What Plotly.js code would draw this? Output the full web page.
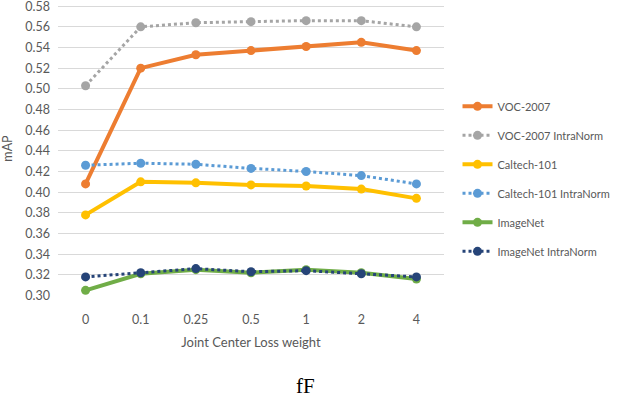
<!DOCTYPE html>
<html><head><meta charset="utf-8">
<script src="https://cdn.plot.ly/plotly-3.0.1.min.js"></script>
<style>html,body{margin:0;padding:0;background:#fff;}#chart{width:618px;height:404px;}</style>
</head><body><div id="chart"></div>
<script>
const categories = ["0", "0.1", "0.25", "0.5", "1", "2", "4"];
const voc = [0.408, 0.520, 0.533, 0.537, 0.541, 0.545, 0.537];
const vocIntra = [0.503, 0.560, 0.564, 0.565, 0.566, 0.566, 0.560];
const caltech = [0.378, 0.410, 0.409, 0.407, 0.406, 0.403, 0.394];
const caltechIntra = [0.426, 0.428, 0.427, 0.423, 0.420, 0.416, 0.408];
const imagenet = [0.305, 0.321, 0.325, 0.322, 0.325, 0.322, 0.316];
const imagenetIntra = [0.318, 0.322, 0.326, 0.323, 0.324, 0.321, 0.318];
const yTicks = [0.30,0.32,0.34,0.36,0.38,0.40,0.42,0.44,0.46,0.48,0.50,0.52,0.54,0.56,0.58];

function tr(name, y, color, dotted, g) {
  return {
    x: categories, y: y, name: name, type: 'scatter', mode: 'lines+markers',
    legendgroup: g, cliponaxis: false,
    line: {color: color, width: dotted ? 3 : 4, dash: dotted ? 'dot' : 'solid'},
    marker: {color: color, size: 9, symbol: 'circle'}
  };
}
const data = [
  tr('VOC-2007', voc, '#ED7D31', false, 'a'),
  tr('VOC-2007 IntraNorm', vocIntra, '#A5A5A5', true, 'b'),
  tr('Caltech-101', caltech, '#FFC000', false, 'c'),
  tr('Caltech-101 IntraNorm', caltechIntra, '#5B9BD5', true, 'd'),
  tr('ImageNet', imagenet, '#70AD47', false, 'e'),
  tr('ImageNet IntraNorm', imagenetIntra, '#264478', true, 'f')
];
const font = "Lato, 'Liberation Sans', Arial, sans-serif";
const layout = {
  width: 618, height: 404,
  margin: {l: 58, r: 174, t: 1, b: 108, autoexpand: false},
  paper_bgcolor: '#fff', plot_bgcolor: '#fff',
  showlegend: true,
  font: {family: font, color: '#595959', size: 12},
  xaxis: {
    type: 'category', range: [-0.5, 6.5], showgrid: false, zeroline: false,
    showline: false, ticks: '', ticklabelstandoff: 14, automargin: false,
    tickfont: {size: 12.5, color: '#595959', family: font},
    title: {text: 'Joint Center Loss weight', font: {size: 13, color: '#595959', family: font}, standoff: 12}
  },
  yaxis: {
    range: [0.2995, 0.585], tickvals: yTicks, ticktext: yTicks.map(v => v.toFixed(2)),
    showgrid: true, gridcolor: '#D9D9D9', gridwidth: 1, zeroline: false, showline: false,
    ticks: '', ticklabelstandoff: 7, automargin: false, ticklabeloverflow: 'allow',
    tickfont: {size: 12.5, color: '#595959', family: font},
    title: {text: 'mAP', font: {size: 12.5, color: '#595959', family: font}, standoff: 10}
  },
  legend: {
    x: 1.035, y: 0.692, xanchor: 'left', yanchor: 'top',
    traceorder: 'grouped', tracegroupgap: 10,
    font: {size: 11, color: '#595959', family: font},
    bgcolor: 'rgba(0,0,0,0)'
  },
  annotations: [{
    text: 'fF', xref: 'paper', yref: 'paper', x: 0.64, y: -0.305,
    xanchor: 'center', yanchor: 'middle', showarrow: false,
    font: {family: "'Liberation Serif', 'Times New Roman', serif", size: 21, color: '#000'}
  }]
};
Plotly.newPlot('chart', data, layout, {displayModeBar: false, staticPlot: true});
</script>
</body></html>
